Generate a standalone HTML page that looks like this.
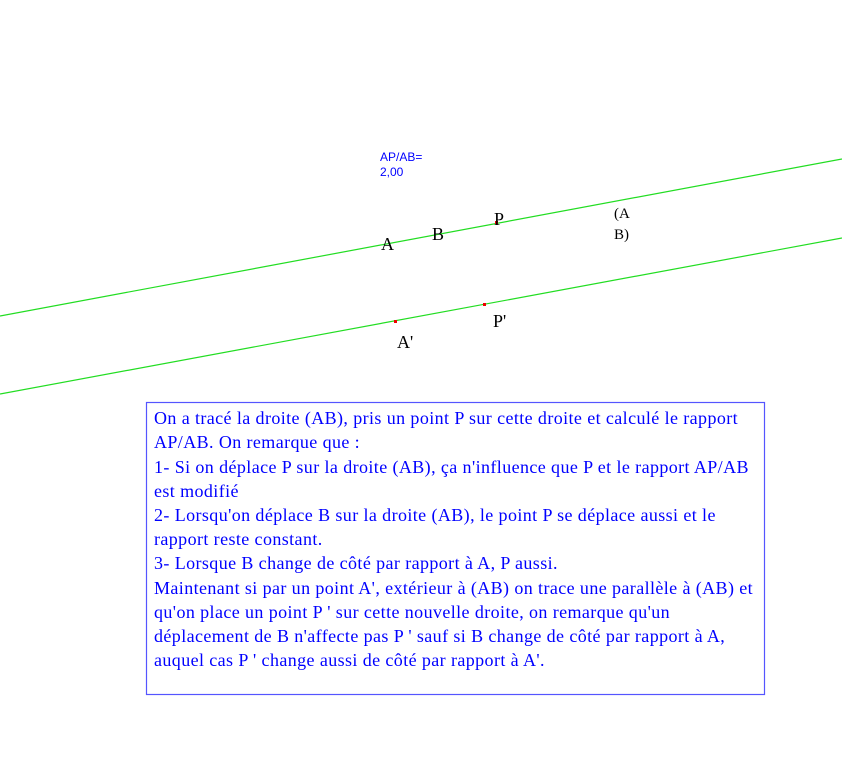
<!DOCTYPE html>
<html><head><meta charset="utf-8"><style>
html,body{margin:0;padding:0;background:#fff;width:842px;height:783px;overflow:hidden;position:relative}
.t{position:absolute;font-family:"Liberation Serif",serif;font-size:18px;letter-spacing:0.4px;color:#0000ff;white-space:nowrap;left:154px;line-height:20px}
.l{position:absolute;font-family:"Liberation Serif",serif;font-size:18px;color:#000}
.s{position:absolute;font-family:"Liberation Sans",sans-serif;font-size:12px;color:#0000ff;line-height:15px}
</style></head><body>
<svg width="842" height="783" style="position:absolute;left:0;top:0">
<line x1="0" y1="316" x2="842" y2="159" stroke="#22dd22" stroke-width="1.2"/>
<line x1="0" y1="394" x2="842" y2="238" stroke="#22dd22" stroke-width="1.2"/>
<rect x="495" y="221" width="3" height="3" fill="#e00"/>
<rect x="394" y="320" width="3" height="3" fill="#e00"/>
<rect x="483" y="303" width="3" height="3" fill="#e00"/>
<rect x="146.5" y="402.5" width="618" height="292" fill="none" stroke="#5555ff" stroke-width="1.2"/>
</svg>
<div class="s" style="left:380px;top:150px">AP/AB=<br>2,00</div>
<div class="l" style="left:381px;top:234px">A</div>
<div class="l" style="left:432px;top:224px">B</div>
<div class="l" style="left:494px;top:209px">P</div>
<div class="l" style="left:614px;top:204px;font-size:15px;line-height:21px">(A<br>B)</div>
<div class="l" style="left:493px;top:311px">P'</div>
<div class="l" style="left:397px;top:332px">A'</div>
<div class="t" style="top:408px">On a tracé la droite (AB), pris un point P sur cette droite et calculé le rapport</div>
<div class="t" style="top:432px">AP/AB. On remarque que :</div>
<div class="t" style="top:457px">1- Si on déplace P sur la droite (AB), ça n'influence que P et le rapport AP/AB</div>
<div class="t" style="top:481px">est modifié</div>
<div class="t" style="top:505px">2- Lorsqu'on déplace B sur la droite (AB), le point P se déplace aussi et le</div>
<div class="t" style="top:529px">rapport reste constant.</div>
<div class="t" style="top:553px">3- Lorsque B change de côté par rapport à A, P aussi.</div>
<div class="t" style="top:578px">Maintenant si par un point A', extérieur à (AB) on trace une parallèle à (AB) et</div>
<div class="t" style="top:602px">qu'on place un point P ' sur cette nouvelle droite, on remarque qu'un</div>
<div class="t" style="top:626px">déplacement de B n'affecte pas P ' sauf si B change de côté par rapport à A,</div>
<div class="t" style="top:650px">auquel cas P ' change aussi de côté par rapport à A'.</div>
</body></html>
